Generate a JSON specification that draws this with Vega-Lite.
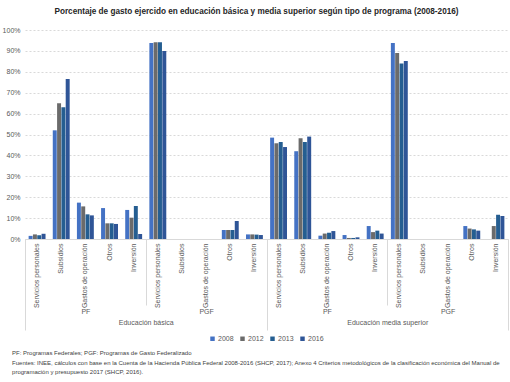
{
  "$schema": "https://vega.github.io/schema/vega-lite/v6.json",
  "background": "white",
  "padding": {"left": 2, "right": 2, "top": 6, "bottom": 4},
  "config": {
    "font": "Liberation Sans",
    "view": {"stroke": null},
    "legend": {"layout": {"bottom": {"anchor": "middle"}}}
  },
  "title": {
    "text": [
      "PF: Programas Federales; PGF: Programas de Gasto Federalizado",
      "Fuentes: INEE, cálculos con base en la Cuenta de la Hacienda Pública Federal 2008-2016 (SHCP, 2017); Anexo 4 Criterios metodológicos de la clasificación económica del Manual de",
      "programación y presupuesto 2017 (SHCP, 2016)."
    ],
    "orient": "bottom",
    "anchor": "start",
    "dx": 10,
    "fontSize": 6,
    "fontWeight": "normal",
    "color": "#404040",
    "lineHeight": 9.5,
    "offset": 8
  },
  "datasets": {
    "bars": [
      {"k": "EB|PF|Servicios personales", "y": "2008", "v": 0.015},
      {"k": "EB|PF|Servicios personales", "y": "2012", "v": 0.022},
      {"k": "EB|PF|Servicios personales", "y": "2013", "v": 0.018},
      {"k": "EB|PF|Servicios personales", "y": "2016", "v": 0.025},
      {"k": "EB|PF|Subsidios", "y": "2008", "v": 0.52},
      {"k": "EB|PF|Subsidios", "y": "2012", "v": 0.65},
      {"k": "EB|PF|Subsidios", "y": "2013", "v": 0.63},
      {"k": "EB|PF|Subsidios", "y": "2016", "v": 0.765},
      {"k": "EB|PF|Gastos de operación", "y": "2008", "v": 0.174},
      {"k": "EB|PF|Gastos de operación", "y": "2012", "v": 0.156},
      {"k": "EB|PF|Gastos de operación", "y": "2013", "v": 0.118},
      {"k": "EB|PF|Gastos de operación", "y": "2016", "v": 0.113},
      {"k": "EB|PF|Otros", "y": "2008", "v": 0.148},
      {"k": "EB|PF|Otros", "y": "2012", "v": 0.075},
      {"k": "EB|PF|Otros", "y": "2013", "v": 0.075},
      {"k": "EB|PF|Otros", "y": "2016", "v": 0.072},
      {"k": "EB|PF|Inversión", "y": "2008", "v": 0.139},
      {"k": "EB|PF|Inversión", "y": "2012", "v": 0.102},
      {"k": "EB|PF|Inversión", "y": "2013", "v": 0.158},
      {"k": "EB|PF|Inversión", "y": "2016", "v": 0.024},
      {"k": "EB|PGF|Servicios personales", "y": "2008", "v": 0.938},
      {"k": "EB|PGF|Servicios personales", "y": "2012", "v": 0.941},
      {"k": "EB|PGF|Servicios personales", "y": "2013", "v": 0.941},
      {"k": "EB|PGF|Servicios personales", "y": "2016", "v": 0.9},
      {"k": "EB|PGF|Otros", "y": "2008", "v": 0.043},
      {"k": "EB|PGF|Otros", "y": "2012", "v": 0.043},
      {"k": "EB|PGF|Otros", "y": "2013", "v": 0.043},
      {"k": "EB|PGF|Otros", "y": "2016", "v": 0.086},
      {"k": "EB|PGF|Inversión", "y": "2008", "v": 0.022},
      {"k": "EB|PGF|Inversión", "y": "2012", "v": 0.022},
      {"k": "EB|PGF|Inversión", "y": "2013", "v": 0.021},
      {"k": "EB|PGF|Inversión", "y": "2016", "v": 0.019},
      {"k": "EMS|PF|Servicios personales", "y": "2008", "v": 0.485},
      {"k": "EMS|PF|Servicios personales", "y": "2012", "v": 0.458},
      {"k": "EMS|PF|Servicios personales", "y": "2013", "v": 0.464},
      {"k": "EMS|PF|Servicios personales", "y": "2016", "v": 0.44},
      {"k": "EMS|PF|Subsidios", "y": "2008", "v": 0.42},
      {"k": "EMS|PF|Subsidios", "y": "2012", "v": 0.482},
      {"k": "EMS|PF|Subsidios", "y": "2013", "v": 0.464},
      {"k": "EMS|PF|Subsidios", "y": "2016", "v": 0.49},
      {"k": "EMS|PF|Gastos de operación", "y": "2008", "v": 0.016},
      {"k": "EMS|PF|Gastos de operación", "y": "2012", "v": 0.026},
      {"k": "EMS|PF|Gastos de operación", "y": "2013", "v": 0.03},
      {"k": "EMS|PF|Gastos de operación", "y": "2016", "v": 0.038},
      {"k": "EMS|PF|Otros", "y": "2008", "v": 0.019},
      {"k": "EMS|PF|Otros", "y": "2012", "v": 0.005},
      {"k": "EMS|PF|Otros", "y": "2013", "v": 0.005},
      {"k": "EMS|PF|Otros", "y": "2016", "v": 0.008},
      {"k": "EMS|PF|Inversión", "y": "2008", "v": 0.062},
      {"k": "EMS|PF|Inversión", "y": "2012", "v": 0.033},
      {"k": "EMS|PF|Inversión", "y": "2013", "v": 0.04},
      {"k": "EMS|PF|Inversión", "y": "2016", "v": 0.026},
      {"k": "EMS|PGF|Servicios personales", "y": "2008", "v": 0.938},
      {"k": "EMS|PGF|Servicios personales", "y": "2012", "v": 0.89},
      {"k": "EMS|PGF|Servicios personales", "y": "2013", "v": 0.84},
      {"k": "EMS|PGF|Servicios personales", "y": "2016", "v": 0.852},
      {"k": "EMS|PGF|Otros", "y": "2008", "v": 0.062},
      {"k": "EMS|PGF|Otros", "y": "2012", "v": 0.05},
      {"k": "EMS|PGF|Otros", "y": "2013", "v": 0.046},
      {"k": "EMS|PGF|Otros", "y": "2016", "v": 0.04},
      {"k": "EMS|PGF|Inversión", "y": "2012", "v": 0.062},
      {"k": "EMS|PGF|Inversión", "y": "2013", "v": 0.116},
      {"k": "EMS|PGF|Inversión", "y": "2016", "v": 0.11}
    ],
    "groups": [
      {"g": "EB|PF"}, {"g": "EB|PGF"}, {"g": "EMS|PF"}, {"g": "EMS|PGF"}
    ],
    "levels": [
      {"lvl": "Educación básica"}, {"lvl": "Educación media superior"}
    ]
  },
  "vconcat": [
    {
      "title": {
        "text": "Porcentaje de gasto ejercido en educación básica y media superior según tipo de programa (2008-2016)",
        "fontSize": 8.2,
        "fontWeight": "bold",
        "color": "#262626",
        "anchor": "middle",
        "dx": -10,
        "offset": 10
      },
      "width": 483,
      "height": 209,
      "resolve": {"scale": {"x": "independent"}, "axis": {"x": "independent"}},
      "layer": [
        {
          "data": {"name": "bars"},
          "mark": {"type": "bar"},
          "encoding": {
            "x": {
              "field": "k",
              "type": "nominal",
              "scale": {
                "domain": [
                  "EB|PF|Servicios personales", "EB|PF|Subsidios", "EB|PF|Gastos de operación", "EB|PF|Otros", "EB|PF|Inversión",
                  "EB|PGF|Servicios personales", "EB|PGF|Subsidios", "EB|PGF|Gastos de operación", "EB|PGF|Otros", "EB|PGF|Inversión",
                  "EMS|PF|Servicios personales", "EMS|PF|Subsidios", "EMS|PF|Gastos de operación", "EMS|PF|Otros", "EMS|PF|Inversión",
                  "EMS|PGF|Servicios personales", "EMS|PGF|Subsidios", "EMS|PGF|Gastos de operación", "EMS|PGF|Otros", "EMS|PGF|Inversión"
                ],
                "paddingInner": 0.3,
                "paddingOuter": 0.15
              },
              "axis": {
                "orient": "bottom",
                "title": null,
                "labelAngle": -90,
                "labelAlign": "right",
                "labelBaseline": "middle",
                "labelFontSize": 7,
                "labelColor": "#595959",
                "labelPadding": 4,
                "labelLimit": 90,
                "ticks": false,
                "domainColor": "#d9d9d9",
                "labelExpr": "split(datum.label, '|')[2]"
              }
            },
            "xOffset": {
              "field": "y",
              "type": "nominal",
              "scale": {"paddingInner": 0.08}
            },
            "y": {
              "field": "v",
              "type": "quantitative",
              "scale": {"domain": [0, 1]},
              "axis": {
                "title": null,
                "format": "%",
                "values": [0, 0.1, 0.2, 0.3, 0.4, 0.5, 0.6, 0.7, 0.8, 0.9, 1],
                "labelOverlap": false,
                "domain": false,
                "ticks": false,
                "grid": true,
                "gridDash": [2, 2],
                "gridColor": "#d9d9d9",
                "labelFontSize": 7,
                "labelColor": "#595959",
                "labelPadding": 5
              }
            },
            "color": {
              "field": "y",
              "type": "nominal",
              "scale": {
                "domain": ["2008", "2012", "2013", "2016"],
                "range": ["#4472c4", "#6b6b6b", "#255e91", "#2f5597"]
              },
              "legend": {
                "orient": "bottom",
                "direction": "horizontal",
                "title": null,
                "symbolType": "square",
                "symbolSize": 20,
                "labelOffset": 2,
                "labelFontSize": 7,
                "labelColor": "#595959",
                "columnPadding": 5,
                "offset": 4
              }
            }
          }
        },
        {
          "data": {"name": "groups"},
          "mark": {"type": "bar", "opacity": 0},
          "encoding": {
            "x": {
              "field": "g",
              "type": "nominal",
              "scale": {
                "domain": ["EB|PF", "EB|PGF", "EMS|PF", "EMS|PGF"],
                "paddingInner": 0,
                "paddingOuter": 0
              },
              "axis": {
                "orient": "bottom",
                "title": null,
                "domain": false,
                "ticks": true,
                "tickBand": "extent",
                "tickSize": 66,
                "tickColor": "#d9d9d9",
                "labelAngle": 0,
                "labelAlign": "center",
                "labelBaseline": "top",
                "labelPadding": 2,
                "labelFontSize": 7,
                "labelColor": "#595959",
                "labelExpr": "split(datum.label, '|')[1]"
              }
            },
            "y": {
              "datum": 0,
              "type": "quantitative",
              "scale": {"domain": [0, 1]},
              "axis": {
                "title": null,
                "format": "%",
                "values": [0, 0.1, 0.2, 0.3, 0.4, 0.5, 0.6, 0.7, 0.8, 0.9, 1],
                "labelOverlap": false,
                "domain": false,
                "ticks": false,
                "grid": true,
                "gridDash": [2, 2],
                "gridColor": "#d9d9d9",
                "labelFontSize": 7,
                "labelColor": "#595959",
                "labelPadding": 5
              }
            },
            "y2": {"datum": 0.001}
          }
        },
        {
          "data": {"name": "levels"},
          "mark": {"type": "bar", "opacity": 0},
          "encoding": {
            "x": {
              "field": "lvl",
              "type": "nominal",
              "scale": {
                "domain": ["Educación básica", "Educación media superior"],
                "paddingInner": 0,
                "paddingOuter": 0
              },
              "axis": {
                "orient": "bottom",
                "title": null,
                "domain": false,
                "ticks": true,
                "tickBand": "extent",
                "tickSize": 91,
                "tickColor": "#d9d9d9",
                "labelAngle": 0,
                "labelPadding": -12,
                "labelFontSize": 7,
                "labelColor": "#595959"
              }
            },
            "y": {
              "datum": 0,
              "type": "quantitative",
              "scale": {"domain": [0, 1]},
              "axis": {
                "title": null,
                "format": "%",
                "values": [0, 0.1, 0.2, 0.3, 0.4, 0.5, 0.6, 0.7, 0.8, 0.9, 1],
                "labelOverlap": false,
                "domain": false,
                "ticks": false,
                "grid": true,
                "gridDash": [2, 2],
                "gridColor": "#d9d9d9",
                "labelFontSize": 7,
                "labelColor": "#595959",
                "labelPadding": 5
              }
            },
            "y2": {"datum": 0.001}
          }
        }
      ]
    }
  ]
}
